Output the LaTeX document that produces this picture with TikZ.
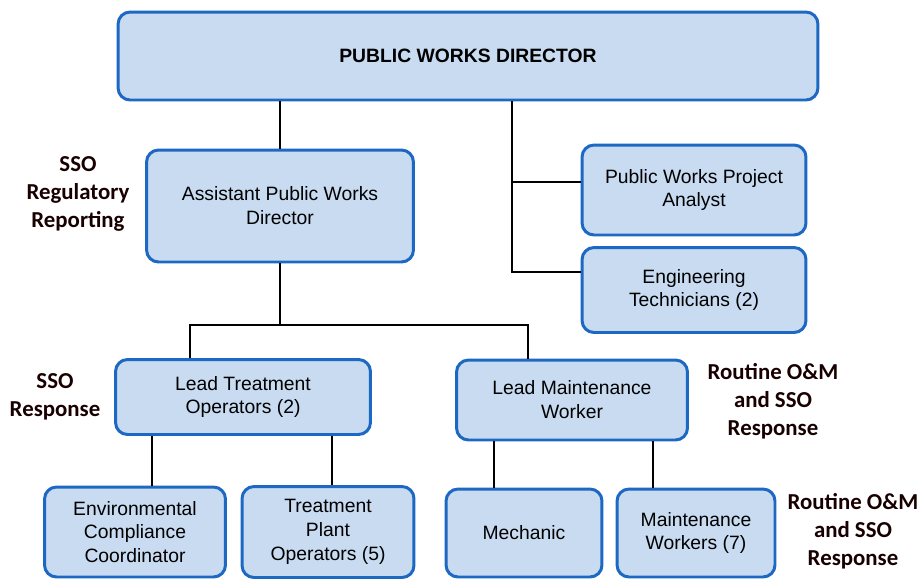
\documentclass[tikz,border=0pt]{standalone}
\usepackage{fontspec}
\setmainfont{Liberation Sans}
\newfontfamily\dutyfont{Carlito}
\usepackage{xcolor}
\definecolor{boxfill}{HTML}{C8DBF1}
\definecolor{boxline}{HTML}{1C68C2}

\tikzset{
  role/.style={draw=boxline, fill=boxfill, line width=1.7pt, rounded corners=0.24cm,
    align=center, inner sep=0pt, font=\fontsize{11}{13.6}\selectfont},
  duty/.style={align=center, text=black!90!red, font=\dutyfont\bfseries\fontsize{13}{16}\selectfont},
  link/.style={line width=1pt}
}

\begin{document}
\begin{tikzpicture}[x=0.02cm, y=-0.02cm]
  \useasboundingbox (0,0) rectangle (923,579);

  % boxes
  \node[role, minimum width=14cm, minimum height=1.76cm, font=\bfseries\fontsize{11}{13.6}\selectfont]
    (dir) at (468,56) {PUBLIC WORKS DIRECTOR};
  \node[role, minimum width=5.34cm, minimum height=2.24cm] (asst) at (280,206) {Assistant Public Works\\Director};
  \node[role, minimum width=4.48cm, minimum height=1.8cm] (analyst) at (694,190) {Public Works Project\\Analyst};
  \node[role, minimum width=4.48cm, minimum height=1.7cm] (tech) at (694,290) {Engineering\\Technicians (2)};
  \node[role, minimum width=5.1cm, minimum height=1.5cm] (ltreat) at (243,397) {Lead Treatment\\Operators (2)};
  \node[role, minimum width=4.62cm, minimum height=1.6cm] (lmaint) at (572,400) {Lead Maintenance\\Worker};
  \node[role, minimum width=3.62cm, minimum height=1.8cm] (env) at (135,532) {Environmental\\Compliance\\Coordinator};
  \node[role, minimum width=3.44cm, minimum height=1.82cm] (plant) at (328,532) {Treatment\\Plant\\Operators (5)};
  \node[role, minimum width=3.12cm, minimum height=1.76cm] (mech) at (524,533) {Mechanic};
  \node[role, minimum width=3.16cm, minimum height=1.76cm] (mworkers) at (696,533) {Maintenance\\Workers (7)};

  % side notes
  \node[duty] (n1) at (78,194) {SSO\\Regulatory\\Reporting};
  \node[duty] (n2) at (55,397) {SSO\\Response};
  \node[duty] (n3) at (773,401) {Routine O\&M\\and SSO\\Response};
  \node[duty] (n4) at (853,531) {Routine O\&M\\and SSO\\Response};

  % connectors
  \coordinate (trunk) at (512,0);
  \coordinate (pa) at (analyst.west |- 0,182);
  \coordinate (pt) at (tech.west |- 0,272);
  \coordinate (bar) at (280,325);
  \coordinate (t1) at (190,0);
  \coordinate (m1) at (528,0);
  \coordinate (e1) at (152,0);
  \coordinate (p1) at (332,0);
  \coordinate (k1) at (494,0);
  \coordinate (w1) at (653,0);

  \draw[link] (asst.north) -- (asst.north |- dir.south);
  \draw[link] (trunk |- dir.south) |- (pt);
  \draw[link] (trunk |- pa) -- (pa);
  \draw[link] (asst.south) -- (bar);
  \draw[link] (t1 |- ltreat.north) |- (bar) -| (m1 |- lmaint.north);
  \draw[link] (e1 |- ltreat.south) -- (e1 |- env.north);
  \draw[link] (p1 |- ltreat.south) -- (p1 |- plant.north);
  \draw[link] (k1 |- lmaint.south) -- (k1 |- mech.north);
  \draw[link] (w1 |- lmaint.south) -- (w1 |- mworkers.north);
\end{tikzpicture}
\end{document}
